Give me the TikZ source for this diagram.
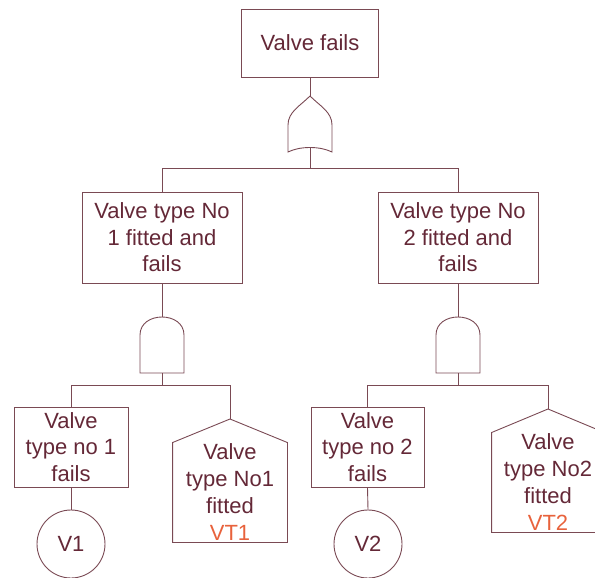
\documentclass[tikz,border=0pt]{standalone}
\usepackage{fontspec}
\setmainfont{Liberation Sans}
\definecolor{linecol}{RGB}{122,74,84}
\definecolor{textcol}{RGB}{100,40,55}
\definecolor{vtcol}{RGB}{232,98,60}

\begin{document}
\begin{tikzpicture}[x=1pt, y=-1pt, line width=0.9pt, color=linecol, text=textcol,
	box/.style={draw, rectangle, align=center, inner sep=0pt, font=\fontsize{22}{26.5}\selectfont},
	basic/.style={draw, circle, inner sep=0pt, minimum size=68pt, font=\fontsize{22}{26.5}\selectfont},
	housebody/.style={rectangle, align=center, inner sep=0pt, font=\fontsize{22}{27}\selectfont}]

\path[use as bounding box, clip] (0,0) rectangle (595,578);

%% Top event
\node[box, minimum width=137pt, minimum height=68pt] (top) at (310,43) {Valve fails};

%% OR gate
\draw (310,96) .. controls (300,106) and (288,112) .. (288,125) -- (288,152)
	.. controls (300,146) and (320,146) .. (332,152) -- (332,125)
	.. controls (332,112) and (320,106) .. (310,96);
\coordinate (orin) at (310,96);
\coordinate (orout) at (310,147);
\coordinate (orbus) at (310,168);

%% Intermediate events
\node[box, minimum width=160pt, minimum height=91pt] (fit1) at (162,237.5) {Valve type No\\1 fitted and\\fails};
\node[box, minimum width=160pt, minimum height=91pt] (fit2) at (458,237.5) {Valve type No\\2 fitted and\\fails};

\draw (top.south) -- (orin);
\draw (orout) -- (orbus) -| (fit1.north);
\draw (orbus) -| (fit2.north);

%% AND gates
\foreach \gx in {162, 458} {
	\draw (\gx-22,335) .. controls (\gx-22,311) and (\gx+22,311) .. (\gx+22,335)
		-- (\gx+22,373) -- (\gx-22,373) -- cycle;
}
\coordinate (and1in) at (162,317);
\coordinate (and1out) at (162,373);
\coordinate (and1bus) at (162,385.5);
\coordinate (and2in) at (458,317);
\coordinate (and2out) at (458,373);
\coordinate (and2bus) at (458,385.5);

\draw (fit1.south) -- (and1in);
\draw (fit2.south) -- (and2in);

%% Left branch
\node[box, minimum width=114pt, minimum height=80pt] (fail1) at (71,447) {Valve\\type no 1\\fails};
\node[basic] (v1) at (71,544) {V1};
\node[housebody, minimum width=114pt, minimum height=99pt] (house1) at (230,492.5) {Valve\\type No1\\fitted\\\textcolor{vtcol}{VT1}};
\coordinate (house1top) at (230,419);
\draw (house1.north west) -- (house1.south west) -- (house1.south east) -- (house1.north east) -- (house1top) -- cycle;

\draw (and1out) -- (and1bus) -| (fail1.north);
\draw (and1bus) -| (house1top);
\draw (fail1.south) -- (v1.north);

%% Right branch
\node[box, minimum width=113pt, minimum height=80pt] (fail2) at (367.5,447) {Valve\\type no 2\\fails};
\node[basic] (v2) at (368,544) {V2};
\node[housebody, minimum width=112pt, minimum height=99pt] (house2) at (548,482.5) {Valve\\type No2\\fitted\\\textcolor{vtcol}{VT2}};
\coordinate (house2top) at (548,409);
\draw (house2.north west) -- (house2.south west) -- (house2.south east) -- (house2.north east) -- (house2top) -- cycle;

\draw (and2out) -- (and2bus) -| (fail2.north);
\draw (and2bus) -| (house2top);
\draw (fail2.south) -- (v2.north);

\end{tikzpicture}
\end{document}
